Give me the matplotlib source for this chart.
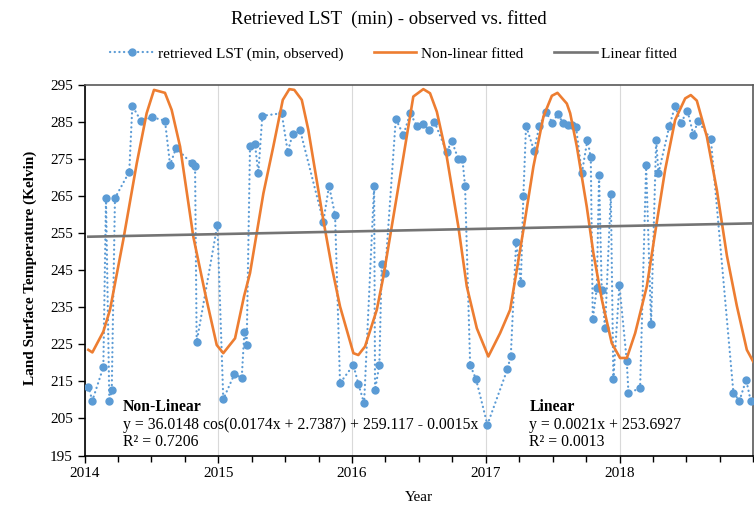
import numpy as np
import matplotlib
matplotlib.use("Agg")
import matplotlib.pyplot as plt
from matplotlib.ticker import MultipleLocator
from matplotlib.lines import Line2D

plt.rcParams['font.family'] = ['Liberation Serif', 'DejaVu Serif']

# observed minimum LST (decimal year, Kelvin)
obs_year = [2014.028, 2014.058, 2014.140, 2014.160, 2014.185, 2014.203, 2014.227, 2014.334,
            2014.357, 2014.420, 2014.506, 2014.601, 2014.639, 2014.684, 2014.801, 2014.826,
            2014.838, 2014.993, 2015.037, 2015.120, 2015.175, 2015.195, 2015.212, 2015.237,
            2015.274, 2015.299, 2015.329, 2015.474, 2015.519, 2015.556, 2015.611, 2015.785,
            2015.828, 2015.873, 2015.910, 2016.010, 2016.047, 2016.090, 2016.165, 2016.172,
            2016.204, 2016.222, 2016.247, 2016.327, 2016.384, 2016.435, 2016.484, 2016.529,
            2016.578, 2016.616, 2016.708, 2016.746, 2016.795, 2016.825, 2016.845, 2016.883,
            2016.927, 2017.012, 2017.162, 2017.187, 2017.227, 2017.262, 2017.281, 2017.301,
            2017.361, 2017.401, 2017.449, 2017.498, 2017.538, 2017.580, 2017.612, 2017.642,
            2017.675, 2017.718, 2017.760, 2017.785, 2017.800, 2017.830, 2017.847, 2017.867,
            2017.892, 2017.935, 2017.954, 2017.999, 2018.054, 2018.067, 2018.154, 2018.199,
            2018.236, 2018.274, 2018.291, 2018.373, 2018.416, 2018.458, 2018.508, 2018.553,
            2018.586, 2018.683, 2018.852, 2018.897, 2018.947, 2018.982]
obs_lst = [213.6, 209.8, 218.8, 264.4, 209.6, 212.7, 264.4, 271.5,
           289.3, 285.3, 286.2, 285.3, 273.4, 277.9, 273.8, 273.1,
           225.6, 257.2, 210.2, 216.9, 216.0, 228.4, 224.8, 278.6,
           279.0, 271.1, 286.6, 287.3, 276.9, 281.7, 282.8, 258.1,
           267.7, 259.9, 214.5, 219.4, 214.3, 209.1, 267.7, 212.7,
           219.4, 246.7, 244.2, 285.8, 281.4, 287.3, 283.9, 284.4,
           282.8, 285.0, 276.9, 279.8, 274.9, 275.0, 267.7, 219.4,
           215.6, 203.3, 218.3, 221.9, 252.7, 241.5, 265.1, 283.9,
           277.2, 283.9, 287.6, 284.8, 287.0, 284.6, 284.0, 284.0,
           283.5, 271.1, 280.1, 275.4, 231.8, 240.1, 270.7, 239.7,
           229.3, 265.5, 215.6, 241.0, 220.6, 211.8, 213.2, 273.4,
           230.4, 280.1, 271.1, 283.9, 289.3, 284.6, 288.0, 281.4,
           285.3, 280.3, 211.8, 209.8, 215.4, 209.6]

# non-linear fitted curve
fit_year = [2014.028, 2014.058, 2014.140, 2014.190, 2014.289, 2014.390, 2014.464, 2014.519,
            2014.601, 2014.651, 2014.714, 2014.813, 2014.901, 2014.988, 2015.037, 2015.125,
            2015.192, 2015.237, 2015.337, 2015.411, 2015.482, 2015.531, 2015.568, 2015.624,
            2015.673, 2015.785, 2015.848, 2015.910, 2016.010, 2016.047, 2016.097, 2016.185,
            2016.234, 2016.309, 2016.384, 2016.458, 2016.533, 2016.583, 2016.634, 2016.708,
            2016.795, 2016.858, 2016.933, 2017.019, 2017.107, 2017.182, 2017.244, 2017.281,
            2017.356, 2017.431, 2017.494, 2017.536, 2017.606, 2017.631, 2017.681, 2017.755,
            2017.805, 2017.868, 2017.942, 2018.004, 2018.055, 2018.117, 2018.204, 2018.266,
            2018.341, 2018.416, 2018.491, 2018.533, 2018.578, 2018.653, 2018.728, 2018.803,
            2018.877, 2018.952, 2019.000]
fit_lst = [223.5, 222.8, 228.4, 234.3, 253.1, 273.8, 287.3, 293.6,
           292.8, 288.2, 278.3, 254.0, 238.8, 224.8, 222.6, 226.6,
           237.9, 244.2, 265.7, 278.3, 290.9, 293.8, 293.6, 290.9,
           282.8, 258.5, 245.9, 235.2, 222.6, 222.1, 224.4, 234.3,
           243.2, 259.4, 275.6, 291.8, 293.8, 292.7, 287.7, 275.6,
           256.7, 240.6, 229.3, 221.7, 228.0, 234.3, 247.7, 255.8,
           272.9, 286.4, 292.0, 292.8, 289.9, 287.3, 278.3, 262.1,
           249.5, 237.0, 225.3, 221.3, 221.3, 228.0, 240.6, 255.0,
           272.0, 285.5, 291.3, 292.2, 290.7, 281.0, 266.6, 248.9,
           235.4, 223.5, 220.3]

# linear fitted line end points
lin_year = [2014.028, 2019.0]
lin_lst = [254.0, 257.6]

year_ticks = [2014, 2015, 2016, 2017, 2018]
lst_ticks = np.arange(195, 296, 10)

blue = '#5B9BD5'
orange = '#ED7D31'
grey = '#747474'
dots = (0, (0.1, 2.0))

fig = plt.figure(figsize=(7.54, 5.05), dpi=100)
ax = fig.add_axes([0.1122, 0.098, 0.8868, 0.7343])

ax.plot(obs_year, obs_lst, color=blue, linestyle=dots, linewidth=1.6,
        dash_capstyle='round', marker='o', markersize=5, zorder=3)
ax.plot(fit_year, fit_lst, color=orange, linewidth=1.9, zorder=4)
ax.plot(lin_year, lin_lst, color=grey, linewidth=1.9, zorder=4)

ax.set_xlim(2014, 2019)
ax.set_ylim(195, 295)
ax.set_xticks(year_ticks)
ax.set_yticks(lst_ticks)
ax.xaxis.set_minor_locator(MultipleLocator(0.25))
ax.tick_params(axis='both', which='major', direction='out', length=5, width=1,
               labelsize=11, colors='black')
ax.tick_params(axis='x', which='minor', direction='out', length=4, width=1)
ax.grid(axis='x', which='major', color='#D9D9D9', linewidth=0.8)
ax.set_axisbelow(True)
for s in ['left', 'bottom']:
    ax.spines[s].set_color('black')
    ax.spines[s].set_linewidth(1.2)
for s in ['top', 'right']:
    ax.spines[s].set_color('#595959')
    ax.spines[s].set_linewidth(1.2)

ax.set_xlabel('Year', fontsize=11, labelpad=8)
fig.text(0.040, 0.469, 'Land Surface Temperature (Kelvin)', rotation=90,
         ha='center', va='center', fontsize=11, fontweight='bold')
fig.text(0.516, 0.962, 'Retrieved LST  (min) - observed vs. fitted',
         ha='center', va='center', fontsize=13.5)

handles = [Line2D([], [], color=blue, linestyle=dots, linewidth=1.6,
                  dash_capstyle='round', marker='o', markersize=5),
           Line2D([], [], color=orange, linewidth=1.9),
           Line2D([], [], color=grey, linewidth=1.9)]
labels = ['retrieved LST (min, observed)', 'Non-linear fitted', 'Linear fitted']
fig.legend(handles, labels, loc='center', bbox_to_anchor=(0.522, 0.893), ncol=3,
           frameon=False, fontsize=11, handlelength=2.8, handletextpad=0.3,
           columnspacing=2.0, numpoints=1)

fig.text(0.163, 0.194, 'Non-Linear', fontsize=11.3, fontweight='bold', va='center')
fig.text(0.163, 0.158, 'y = 36.0148 cos(0.0174x + 2.7387) + 259.117 - 0.0015x',
         fontsize=11.3, va='center')
fig.text(0.163, 0.124, 'R² = 0.7206', fontsize=11.3, va='center')
fig.text(0.702, 0.194, 'Linear', fontsize=11.3, fontweight='bold', va='center')
fig.text(0.702, 0.158, 'y = 0.0021x + 253.6927', fontsize=11.3, va='center')
fig.text(0.702, 0.124, 'R² = 0.0013', fontsize=11.3, va='center')

fig.savefig('out.png', dpi=100)
